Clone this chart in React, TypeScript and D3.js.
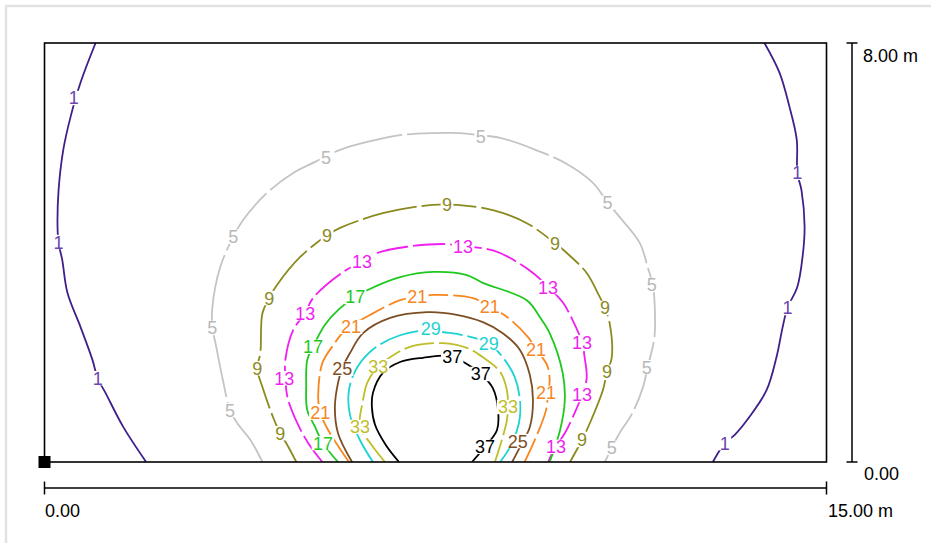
import React from "react";
import * as d3 from "d3";

type P = [number, number];

// Plot extent (metres)
const xDomain: P = [0, 15];
const yDomain: P = [0, 8];
const xTickLabels = ["0.00", "15.00 m"];
const yTickLabels = ["0.00", "8.00 m"];

// Contour levels and colours
const levels = [1, 5, 9, 13, 17, 21, 25, 29, 33, 37];
const lineColors = ["#3f1f8a", "#c4c4c4", "#8a8a1e", "#f01ef0", "#1ec81e", "#f7861e", "#7d4e24", "#1ed2d2", "#bebe28", "#000000"];
const textColors = ["#6a44b0", "#b8b8b8", "#8a8a1e", "#f01ef0", "#1ec81e", "#f7861e", "#7d4e24", "#1ed2d2", "#bebe28", "#000000"];
const dashes = [null, "70,5", "55,5", "32,5", null, "28,5", null, "40,5", "30,5", null];

// Isoline points (x m, y m)
const c1Left: P[] = [[0.98, 8.0], [0.69, 7.24], [0.5, 6.59], [0.36, 5.96], [0.27, 5.19], [0.25, 4.49], [0.27, 4.18], [0.34, 3.86], [0.44, 3.23], [0.69, 2.58], [0.92, 1.95], [1.02, 1.6], [1.17, 1.32], [1.51, 0.67], [1.95, 0]];
const c1Right: P[] = [[13.81, 8.0], [14.1, 7.43], [14.29, 6.78], [14.43, 6.15], [14.44, 5.52], [14.52, 5.19], [14.58, 4.49], [14.54, 3.91], [14.44, 3.34], [14.25, 2.94], [14.16, 2.58], [14.04, 2.0], [13.85, 1.37], [13.52, 0.86], [13.24, 0.52], [13.05, 0.36], [12.82, 0]];
const c5: P[] = [[4.18, 0], [3.95, 0.42], [3.72, 0.71], [3.56, 0.99], [3.41, 1.62], [3.28, 2.27], [3.22, 2.56], [3.22, 2.96], [3.37, 3.72], [3.62, 4.3], [3.81, 4.62], [4.27, 5.14], [4.77, 5.52], [5.19, 5.73], [5.67, 5.96], [6.19, 6.11], [6.82, 6.24], [7.45, 6.28], [7.97, 6.28], [8.35, 6.24], [8.74, 6.19], [9.37, 5.98], [10.02, 5.69], [10.52, 5.33], [10.8, 4.96], [11.03, 4.68], [11.42, 4.18], [11.57, 3.72], [11.67, 3.38], [11.7, 3.09], [11.7, 2.39], [11.57, 1.81], [11.48, 1.43], [11.28, 0.94], [11.03, 0.55], [10.88, 0.27], [10.75, 0]];
const c9: P[] = [[4.83, 0], [4.66, 0.32], [4.52, 0.55], [4.39, 0.84], [4.18, 1.43], [4.08, 1.79], [4.14, 2.08], [4.18, 2.84], [4.31, 3.13], [4.46, 3.38], [4.9, 3.91], [5.42, 4.33], [5.67, 4.47], [6.49, 4.75], [7.45, 4.91], [7.91, 4.91], [8.6, 4.81], [9.25, 4.56], [9.79, 4.18], [10.02, 3.99], [10.4, 3.61], [10.61, 3.23], [10.75, 2.94], [10.84, 2.65], [10.88, 1.99], [10.79, 1.72], [10.71, 1.37], [10.46, 0.74], [10.31, 0.42], [10.08, 0]];
const c13: P[] = [[5.33, 0], [5.06, 0.36], [4.85, 0.74], [4.66, 1.24], [4.62, 1.62], [4.62, 1.95], [4.77, 2.52], [5.0, 2.84], [5.15, 3.13], [5.73, 3.63], [6.09, 3.82], [6.38, 3.99], [6.95, 4.11], [7.72, 4.16], [8.03, 4.11], [8.35, 4.09], [8.74, 3.99], [9.37, 3.61], [9.66, 3.34], [9.94, 3.05], [10.13, 2.71], [10.31, 2.29], [10.36, 2.0], [10.4, 1.6], [10.31, 1.28], [10.21, 1.03], [9.98, 0.55], [9.79, 0.27], [9.66, 0]];
const c17: P[] = [[5.63, 0], [5.34, 0.36], [5.19, 0.67], [5.04, 0.99], [5.02, 1.47], [5.04, 1.95], [5.15, 2.2], [5.38, 2.62], [5.63, 2.9], [5.96, 3.15], [6.19, 3.28], [6.82, 3.53], [7.45, 3.63], [8.1, 3.57], [8.41, 3.42], [9.25, 3.09], [9.5, 2.77], [9.69, 2.46], [9.94, 1.7], [9.98, 1.18], [9.89, 0.61], [9.69, 0]];
const c21: P[] = [[5.84, 0], [5.44, 0.61], [5.29, 0.94], [5.25, 1.24], [5.33, 1.89], [5.54, 2.23], [5.77, 2.52], [6.25, 2.81], [6.82, 3.09], [7.15, 3.15], [7.45, 3.19], [8.22, 3.13], [8.54, 2.96], [8.87, 2.77], [9.27, 2.39], [9.44, 2.14], [9.64, 1.85], [9.69, 1.57], [9.66, 1.32], [9.62, 0.99], [9.46, 0.55], [9.21, 0]];
const c25: P[] = [[5.9, 0], [5.63, 0.55], [5.57, 1.05], [5.63, 1.51], [5.71, 1.79], [5.86, 2.08], [6.11, 2.46], [6.63, 2.75], [7.34, 2.86], [7.91, 2.81], [8.41, 2.67], [8.79, 2.46], [9.12, 2.14], [9.31, 1.66], [9.37, 1.18], [9.31, 0.67], [9.16, 0.36], [8.97, 0]];
const c29: P[] = [[6.3, 0], [6.05, 0.42], [5.86, 0.9], [5.84, 1.37], [6.0, 1.81], [6.34, 2.18], [6.82, 2.42], [7.39, 2.52], [7.64, 2.48], [8.03, 2.42], [8.51, 2.27], [8.79, 2.0], [9.02, 1.62], [9.12, 1.18], [9.1, 0.74], [8.93, 0.29], [8.74, 0]];
const c33: P[] = [[6.53, 0], [6.25, 0.36], [6.05, 0.67], [6.11, 1.18], [6.19, 1.51], [6.4, 1.83], [6.63, 2.0], [7.01, 2.2], [7.64, 2.27], [8.1, 2.18], [8.41, 2.0], [8.74, 1.72], [8.87, 1.37], [8.89, 1.05], [8.87, 0.8], [8.79, 0.48], [8.64, 0]];
const c37: P[] = [[6.8, 0], [6.55, 0.32], [6.34, 0.71], [6.28, 1.05], [6.3, 1.32], [6.49, 1.7], [6.82, 1.91], [7.26, 1.99], [7.82, 2.02], [8.07, 1.89], [8.37, 1.68], [8.6, 1.41], [8.7, 0.99], [8.68, 0.61], [8.45, 0.29], [8.2, 0]];

// Label anchor points (x m, y m)
const l1: P[] = [[0.56, 6.95], [0.27, 4.2], [1.02, 1.6], [14.44, 5.52], [14.25, 2.94], [13.05, 0.36]];
const l5: P[] = [[5.4, 5.82], [8.37, 6.22], [3.62, 4.3], [10.8, 4.95], [11.65, 3.38], [3.22, 2.56], [11.55, 1.81], [3.56, 0.99], [10.88, 0.27]];
const l9: P[] = [[5.42, 4.33], [7.72, 4.91], [9.79, 4.18], [4.31, 3.13], [10.75, 2.94], [4.08, 1.79], [10.79, 1.72], [4.52, 0.55], [10.31, 0.42]];
const l13: P[] = [[6.09, 3.82], [8.03, 4.11], [5.0, 2.84], [9.66, 3.34], [4.6, 1.6], [10.31, 2.29], [10.31, 1.28], [9.81, 0.29]];
const l17: P[] = [[5.96, 3.15], [5.15, 2.2], [5.34, 0.36]];
const l21: P[] = [[7.15, 3.15], [8.54, 2.96], [5.88, 2.58], [9.43, 2.14], [9.62, 1.32], [5.29, 0.94]];
const l25: P[] = [[5.71, 1.78], [9.08, 0.4]];
const l29: P[] = [[7.41, 2.54], [8.52, 2.27]];
const l33: P[] = [[6.4, 1.83], [8.89, 1.05], [6.05, 0.67]];
const l37: P[] = [[7.82, 2.02], [8.37, 1.68], [8.45, 0.29]];

const pathsByLevel: P[][][] = [[c1Left, c1Right], [c5], [c9], [c13], [c17], [c21], [c25], [c29], [c33], [c37]];
const labelsByLevel: P[][] = [l1, l5, l9, l13, l17, l21, l25, l29, l33, l37];

const W = 931;
const H = 543;
const FONT = "Arial, 'Liberation Sans', sans-serif";
const FS = 18;

export default function App() {
  const x = d3.scaleLinear().domain(xDomain).range([44.5, 826.5]);
  const y = d3.scaleLinear().domain(yDomain).range([462, 43]);
  const line = d3
    .line<P>()
    .x((d) => x(d[0]))
    .y((d) => y(d[1]))
    .curve(d3.curveCatmullRom.alpha(0.5));

  const x0 = x(xDomain[0]);
  const x1 = x(xDomain[1]);
  const y0 = y(yDomain[0]);
  const y1 = y(yDomain[1]);
  const vbx = 852;
  const hby = 488;

  return (
    <svg width={W} height={H} style={{ position: "absolute", left: 0, top: 0, background: "#fff" }}>
      <defs>
        <clipPath id="plotclip">
          <rect x={x0} y={y1} width={x1 - x0} height={y0 - y1} />
        </clipPath>
      </defs>
      <rect x={0} y={0} width={W} height={H} fill="#fff" />
      {/* outer light frame */}
      <rect x={6} y={6} width={W + 20} height={H + 20} fill="none" stroke="#e2e2e2" strokeWidth={2.5} />

      <g clipPath="url(#plotclip)">
        {levels.map((lv, i) =>
          pathsByLevel[i].map((pts, j) => (
            <path
              key={`p${lv}-${j}`}
              d={line(pts) || ""}
              fill="none"
              stroke={lineColors[i]}
              strokeWidth={1.8}
              strokeDasharray={dashes[i] || undefined}
            />
          ))
        )}
        {levels.map((lv, i) =>
          labelsByLevel[i].map((p, j) => {
            const txt = String(lv);
            const w = txt.length * FS * 0.54 + 3;
            const h = FS * 0.8;
            const cx = x(p[0]);
            const cy = y(p[1]);
            return (
              <g key={`l${lv}-${j}`}>
                <rect x={cx - w / 2} y={cy - h / 2} width={w} height={h} fill="#fff" />
                <text
                  x={cx}
                  y={cy}
                  dy="0.36em"
                  textAnchor="middle"
                  fontFamily={FONT}
                  fontSize={FS}
                  fill={textColors[i]}
                >
                  {txt}
                </text>
              </g>
            );
          })
        )}
      </g>

      {/* plot border */}
      <rect x={x0} y={y1} width={x1 - x0} height={y0 - y1} fill="none" stroke="#000" strokeWidth={1.6} />
      {/* origin marker */}
      <rect x={x0 - 6} y={y0 - 6} width={12} height={12} fill="#000" />

      {/* vertical scale bar */}
      <line x1={vbx} x2={vbx} y1={y1} y2={y0} stroke="#000" strokeWidth={1.5} />
      <line x1={vbx - 5.5} x2={vbx + 5.5} y1={y1} y2={y1} stroke="#000" strokeWidth={1.5} />
      <line x1={vbx - 5.5} x2={vbx + 5.5} y1={y0} y2={y0} stroke="#000" strokeWidth={1.5} />
      <text x={863} y={62} fontFamily={FONT} fontSize={18} fill="#000">
        {yTickLabels[1]}
      </text>
      <text x={864} y={480} fontFamily={FONT} fontSize={18} fill="#000">
        {yTickLabels[0]}
      </text>

      {/* horizontal scale bar */}
      <line x1={x0} x2={x1} y1={hby} y2={hby} stroke="#000" strokeWidth={1.5} />
      <line x1={x0} x2={x0} y1={hby - 6.5} y2={hby + 6.5} stroke="#000" strokeWidth={1.5} />
      <line x1={x1} x2={x1} y1={hby - 6.5} y2={hby + 6.5} stroke="#000" strokeWidth={1.5} />
      <text x={45} y={517} fontFamily={FONT} fontSize={18} fill="#000">
        {xTickLabels[0]}
      </text>
      <text x={828} y={517} fontFamily={FONT} fontSize={18} fill="#000">
        {xTickLabels[1]}
      </text>
    </svg>
  );
}
